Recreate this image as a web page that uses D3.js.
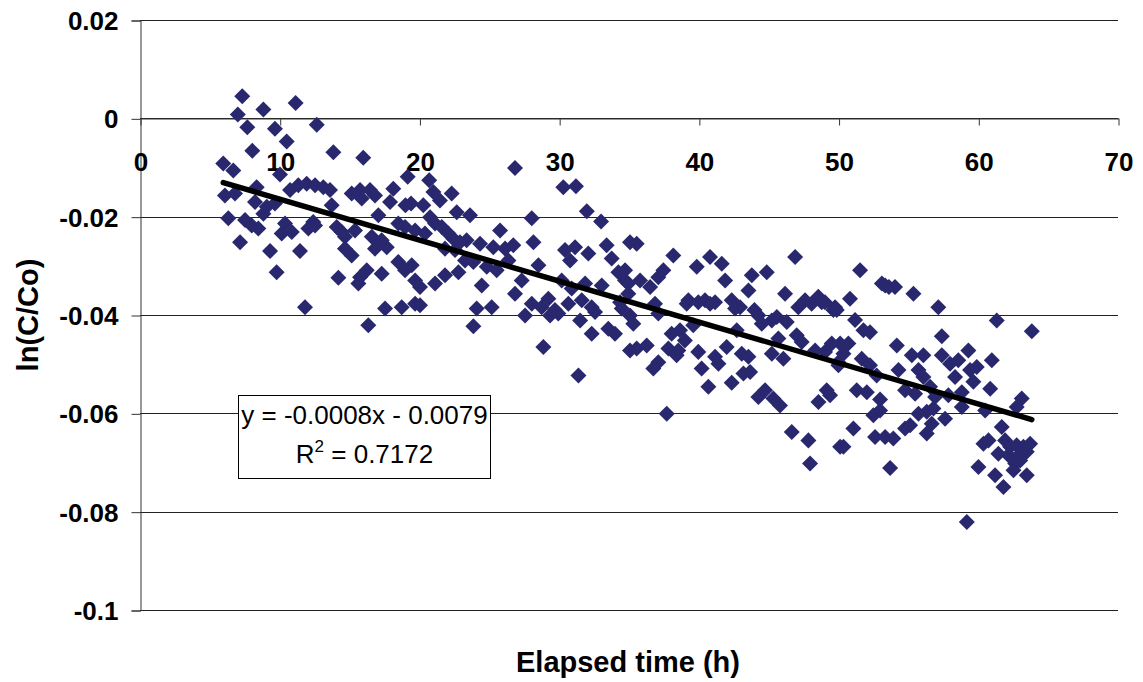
<!DOCTYPE html>
<html><head><meta charset="utf-8">
<script src="https://cdn.jsdelivr.net/npm/d3@7"></script>
<style>body{margin:0;background:#fff;} svg{display:block;}</style>
</head><body>
<svg id="c" width="1143" height="682"></svg>
<script>
const xTicks = [0,10,20,30,40,50,60,70];
const yTicks = [0.02,0,-0.02,-0.04,-0.06,-0.08,-0.1];
const yTickLabels = ["0.02","0","-0.02","-0.04","-0.06","-0.08","-0.1"];
const xTitle = "Elapsed time (h)";
const yTitle = "ln(C/Co)";
const trendSlope = -0.000833;
const trendIntercept = -0.0081;
const eqLine1 = "y = -0.0008x - 0.0079";
const eqR2 = "0.7172";

const elapsed = [
7.32,7.0,8.83,11.14,7.68,9.66,12.65,10.5,8.04,13.84,15.98,5.96,6.68,10.02,19.16,10.74,11.33,11.93,12.53,13.12,13.6,15.15,15.75,16.46,15.87,16.82,18.13,17.9,19.0,19.4,8.35,6.08,6.8,8.23,9.07,9.66,8.83,13.72,6.32,7.52,8.0,8.47,10.38,10.14,10.86,12.4,12.05,12.53,14.08,14.44,15.39,14.67,17.06,16.59,17.3,17.66,16.82,18.49,18.97,7.16,9.31,11.45,14.67,15.15,9.78,14.2,15.75,16.23,17.3,18.49,18.97,19.45,19.69,15.63,11.81,17.54,18.73,19.69,16.34,
26.84,30.3,31.2,20.7,21.0,21.47,22.31,22.67,23.62,20.28,20.76,21.12,19.69,20.4,21.6,22.07,22.43,22.9,23.38,24.34,25.77,28.04,28.16,25.29,26.13,26.72,21.83,22.55,23.26,23.86,22.79,21.83,21.12,20.04,24.82,25.53,24.46,26.37,27.32,26.84,28.52,30.42,31.14,30.78,31.98,33.0,32.09,33.4,33.76,34.24,34.72,35.07,30.18,30.9,31.86,33.05,29.23,28.75,28.04,29.7,31.62,32.33,34.36,34.95,
20.04,24.1,25.17,23.86,27.56,29.35,29.94,28.87,31.38,30.66,32.57,31.5,32.33,33.52,34.0,34.48,35.07,
35.55,34.72,34.95,38.17,35.79,36.51,37.1,37.46,39.85,40.8,41.64,41.88,43.79,44.86,43.55,46.17,46.89,47.6,48.55,49.03,49.75,39.25,40.44,41.16,42.35,42.95,36.86,43.98,
35.07,35.31,35.55,36.27,36.74,37.1,37.1,38.05,38.65,39.0,37.82,38.41,38.53,37.7,39.6,39.13,39.96,40.8,39.96,40.2,40.68,41.16,41.4,41.99,42.35,42.59,42.71,43.07,43.55,43.19,43.67,44.26,44.5,45.22,45.58,46.29,44.26,44.74,45.33,45.81,45.22,45.69,46.05,46.65,47.84,47.96,47.0,47.36,47.12,48.07,48.79,49.63,48.32,49.03,49.51,48.56,49.15,49.39,50.11,49.99,
51.54,50.82,53.33,54.04,55.36,57.14,53.1,53.6,
49.87,51.18,51.78,52.25,61.32,63.83,50.11,50.7,50.35,49.99,51.66,52.25,52.73,54.17,55.24,56.07,57.39,57.39,57.98,58.57,59.29,60.97,54.29,55.72,56.07,58.34,59.41,59.89,59.65,60.85,51.3,52.02,52.97,54.76,55.48,56.55,56.91,56.79,57.86,58.82,58.82,60.49,63.11,62.75,52.49,52.97,55.72,56.31,57.62,56.67,56.31,54.76,55.12,52.61,53.33,53.92,51.06,50.35,53.69,61.68,60.37,60.73,61.92,62.28,62.75,63.23,63.71,61.44,62.16,63.0,63.47,62.64,63.0,60.01,61.2,62.52,63.47,61.8,59.18
];
const lnRatio = [
0.0045,0.0008,0.0018,0.0031,-0.0018,-0.0021,-0.0013,-0.0047,-0.0066,-0.0069,-0.008,-0.0092,-0.0106,-0.0114,-0.0119,-0.0146,-0.0136,-0.0133,-0.0136,-0.014,-0.0146,-0.0153,-0.0146,-0.0146,-0.0163,-0.0157,-0.0143,-0.017,-0.0177,-0.0173,-0.014,-0.0157,-0.0153,-0.017,-0.018,-0.0173,-0.0194,-0.0177,-0.0203,-0.0207,-0.0218,-0.0224,-0.0214,-0.0234,-0.0231,-0.0211,-0.0224,-0.0218,-0.0221,-0.0231,-0.0228,-0.0241,-0.0197,-0.0241,-0.0248,-0.0262,-0.0265,-0.0214,-0.0221,-0.0252,-0.027,-0.027,-0.0265,-0.0279,-0.0313,-0.0324,-0.0323,-0.0309,-0.0316,-0.0292,-0.0309,-0.0299,-0.033,-0.0336,-0.0384,-0.0387,-0.0384,-0.0377,-0.0421,
-0.0101,-0.014,-0.0138,-0.0126,-0.015,-0.0167,-0.0153,-0.0191,-0.0197,-0.0177,-0.0201,-0.0214,-0.0228,-0.0234,-0.0221,-0.0234,-0.0245,-0.0252,-0.0248,-0.0255,-0.0228,-0.0203,-0.0252,-0.0262,-0.0265,-0.0258,-0.0265,-0.0268,-0.0289,-0.0292,-0.0313,-0.0319,-0.0336,-0.0343,-0.0302,-0.0309,-0.034,-0.0289,-0.033,-0.0357,-0.0299,-0.0268,-0.0262,-0.0289,-0.0189,-0.021,-0.0275,-0.0258,-0.0285,-0.0313,-0.033,-0.0252,-0.033,-0.0346,-0.0336,-0.034,-0.0367,-0.0384,-0.0377,-0.039,-0.037,-0.0384,-0.0374,-0.0357,
-0.038,-0.0387,-0.0384,-0.0423,-0.0401,-0.0401,-0.0397,-0.0465,-0.0523,-0.0377,-0.0394,-0.0411,-0.0438,-0.0428,-0.0438,-0.0387,-0.0472,
-0.0255,-0.0309,-0.0336,-0.0279,-0.033,-0.0343,-0.0323,-0.0309,-0.0302,-0.0282,-0.0296,-0.033,-0.0319,-0.0313,-0.035,-0.0357,-0.0282,-0.037,-0.0363,-0.0374,-0.0384,-0.037,-0.037,-0.0374,-0.037,-0.0384,-0.0377,-0.039,
-0.0401,-0.0418,-0.0468,-0.0462,-0.0509,-0.0496,-0.0397,-0.0438,-0.0431,-0.0452,-0.0468,-0.0482,-0.0472,-0.0601,-0.0421,-0.0377,-0.0374,-0.0377,-0.0475,-0.0509,-0.0546,-0.0485,-0.0499,-0.0465,-0.0538,-0.0387,-0.0431,-0.0479,-0.0485,-0.0519,-0.0516,-0.0401,-0.0418,-0.0411,-0.0404,-0.0414,-0.0567,-0.0553,-0.057,-0.0584,-0.0479,-0.0448,-0.0489,-0.0638,-0.0655,-0.0702,-0.0441,-0.0455,-0.0384,-0.0377,-0.0374,-0.039,-0.0472,-0.0475,-0.0458,-0.0577,-0.0553,-0.0563,-0.0668,-0.0502,
-0.0309,-0.0367,-0.034,-0.0343,-0.0357,-0.0384,-0.0336,-0.0343,
-0.039,-0.041,-0.0431,-0.0435,-0.0411,-0.0433,-0.0458,-0.0458,-0.0479,-0.0496,-0.0489,-0.0502,-0.0523,-0.0462,-0.0482,-0.0482,-0.0443,-0.0482,-0.0499,-0.0492,-0.0472,-0.0492,-0.0512,-0.0512,-0.0526,-0.0526,-0.0512,-0.0506,-0.0536,-0.055,-0.0553,-0.0557,-0.0572,-0.0553,-0.056,-0.0546,-0.0567,-0.059,-0.0563,-0.0557,-0.0587,-0.0594,-0.057,-0.0587,-0.0604,-0.0594,-0.0601,-0.0597,-0.0611,-0.0621,-0.0641,-0.0631,-0.0624,-0.0648,-0.0648,-0.0651,-0.0631,-0.0668,-0.0711,-0.0628,-0.0662,-0.0655,-0.0655,-0.0668,-0.0665,-0.0668,-0.0662,-0.0682,-0.0685,-0.0682,-0.0678,-0.0702,-0.0696,-0.0709,-0.0726,-0.0716,-0.0726,-0.075,-0.0821
];

const svg = d3.select("#c");
const font = "'Liberation Sans', Arial, sans-serif";
const x = d3.scaleLinear().domain([0,70]).range([140,1118]);
const y = d3.scaleLinear().domain([-0.1,0.02]).range([610,20]);

// gridlines
svg.append("g").selectAll("line").data(yTicks).join("line")
  .attr("x1",x(0)).attr("x2",x(70))
  .attr("y1",d=>Math.round(y(d))+0.5).attr("y2",d=>Math.round(y(d))+0.5)
  .attr("stroke","#222").attr("stroke-width",1);

// y axis
const yAxis = d3.axisLeft(y).tickValues(yTicks).tickSize(9).tickPadding(13)
  .tickFormat((d,i)=>yTickLabels[i]);
const gy = svg.append("g").attr("transform",`translate(${x(0)+0.5},0.5)`).call(yAxis);
gy.select(".domain").attr("stroke","#333");
gy.selectAll(".tick line").attr("stroke","#333");
gy.selectAll("text").attr("font-family",font).attr("font-size",26).attr("font-weight","bold").attr("fill","#000").attr("dy","0.35em");

// x axis at y=0
const xAxis = d3.axisBottom(x).tickValues(xTicks).tickSizeInner(7).tickSizeOuter(0).tickPadding(26);
const gx = svg.append("g").attr("transform",`translate(0.5,${Math.round(y(0))+0.5})`).call(xAxis);
gx.select(".domain").attr("stroke","#333");
gx.selectAll(".tick line").attr("stroke","#333");
gx.selectAll("text").attr("font-family",font).attr("font-size",26).attr("font-weight","bold").attr("fill","#000").attr("dy","0");
gx.selectAll(".tick text").attr("y",52);

// points
const pts = elapsed.map((e,i)=>({x:e,y:lnRatio[i]}));
const sym = d3.symbol(d3.symbolSquare, 128)();
svg.append("g").selectAll("path").data(pts).join("path")
  .attr("d",sym)
  .attr("transform",d=>`translate(${x(d.x)},${y(d.y)}) rotate(45)`)
  .attr("fill","#29286f");

// trend line
const xMin = d3.min(elapsed), xMax = d3.max(elapsed);
svg.append("line")
  .attr("x1",x(xMin)).attr("y1",y(trendSlope*xMin+trendIntercept))
  .attr("x2",x(xMax)).attr("y2",y(trendSlope*xMax+trendIntercept))
  .attr("stroke","#000").attr("stroke-width",5.5).attr("stroke-linecap","round");

// equation box
svg.append("rect").attr("x",238.5).attr("y",395.5).attr("width",252).attr("height",83)
  .attr("fill","#fff").attr("stroke","#000").attr("stroke-width",1);
svg.append("text").attr("x",364.5).attr("y",424).attr("text-anchor","middle")
  .attr("font-family",font).attr("font-size",26).text(eqLine1);
const t2 = svg.append("text").attr("x",364.5).attr("y",463).attr("text-anchor","middle")
  .attr("font-family",font).attr("font-size",26);
t2.append("tspan").text("R");
t2.append("tspan").attr("dy",-11).attr("font-size",17).text("2");
t2.append("tspan").attr("dy",11).text(" = " + eqR2);

// axis titles
svg.append("text").attr("x",628).attr("y",672).attr("text-anchor","middle")
  .attr("font-family",font).attr("font-size",29).attr("font-weight","bold").text(xTitle);
svg.append("text").attr("transform","translate(38,315) rotate(-90)").attr("text-anchor","middle")
  .attr("font-family",font).attr("font-size",29).attr("font-weight","bold").text(yTitle);
</script>
</body></html>
